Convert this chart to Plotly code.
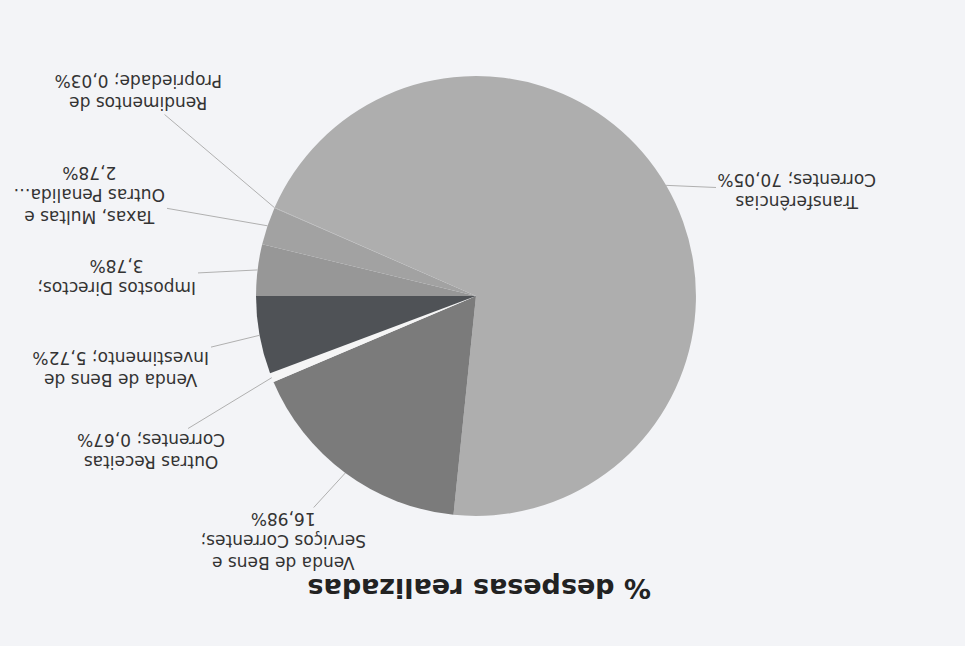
import math
import plotly.graph_objects as go

# ---- data (order as in the source chart, clockwise) ----
categories = [
    "Impostos Directos",
    "Taxas, Multas e Outras Penalidades",
    "Rendimentos de Propriedade",
    "Transferências Correntes",
    "Venda de Bens e Serviços Correntes",
    "Outras Receitas Correntes",
    "Venda de Bens de Investimento",
]
values = [3.78, 2.78, 0.03, 70.05, 16.98, 0.67, 5.72]
label_texts = [
    "Impostos Directos;<br>3,78%",
    "Taxas, Multas e<br>Outras Penalida…<br>2,78%",
    "Rendimentos de<br>Propriedade; 0,03%",
    "Transferências<br>Correntes; 70,05%",
    "Venda de Bens e<br>Serviços Correntes;<br>16,98%",
    "Outras Receitas<br>Correntes; 0,67%",
    "Venda de Bens de<br>Investimento; 5,72%",
]
title_text = "% despesas realizadas"

# ---- style ----
colors = ["#979797", "#a2a2a2", "#aaaaaa", "#aeaeae", "#7b7b7b", "#f5f5f5", "#4f5256"]
BG = "#f3f4f7"
W, H = 965, 646
dom_x = [0.2653, 0.7212]
dom_y = [0.2012, 0.8824]
ROT = 270
# label centres in screen pixels (layout positions)
label_pos = [(117, 277), (90, 195), (138, 92), (797, 191), (283, 541), (151, 451), (121, 369)]

fig = go.Figure()
fig.add_trace(go.Pie(
    labels=categories, values=values, sort=False, direction="clockwise",
    rotation=ROT, textinfo="none", hoverinfo="label+percent",
    marker=dict(colors=colors, line=dict(color="#f5f5f5", width=0)),
    domain=dict(x=dom_x, y=dom_y), showlegend=False,
))

cx = (dom_x[0] + dom_x[1]) / 2 * W
cy = (1 - (dom_y[0] + dom_y[1]) / 2) * H
r = min((dom_x[1] - dom_x[0]) * W, (dom_y[1] - dom_y[0]) * H) / 2
total = sum(values)

annotations = []
cum = 0.0
for v, txt, (lx, ly) in zip(values, label_texts, label_pos):
    theta = math.radians(ROT + 360 * (cum + v / 2) / total)
    cum += v
    px = cx + r * math.sin(theta)
    py = cy - r * math.cos(theta)
    annotations.append(dict(
        x=px / W, y=1 - py / H, xref="paper", yref="paper",
        text=txt, textangle=180, showarrow=True, arrowhead=0,
        arrowwidth=1, arrowcolor="#b0b0b0",
        ax=lx - px, ay=ly - py, align="center",
        font=dict(family="DejaVu Sans", size=17, color="#333333"),
    ))

annotations.append(dict(
    x=480 / W, y=1 - 606 / H, xref="paper", yref="paper",
    text="<b>" + title_text + "</b>", textangle=180, showarrow=False,
    font=dict(family="DejaVu Sans", size=27, color="#222222"),
))

fig.update_layout(
    width=W, height=H, margin=dict(l=0, r=0, t=0, b=0),
    paper_bgcolor=BG, plot_bgcolor=BG,
    annotations=annotations,
)

fig.write_html(
    "out.html",
    config={"displayModeBar": False},
    post_script="document.body.style.margin='0';document.body.style.background='" + BG + "';",
)
